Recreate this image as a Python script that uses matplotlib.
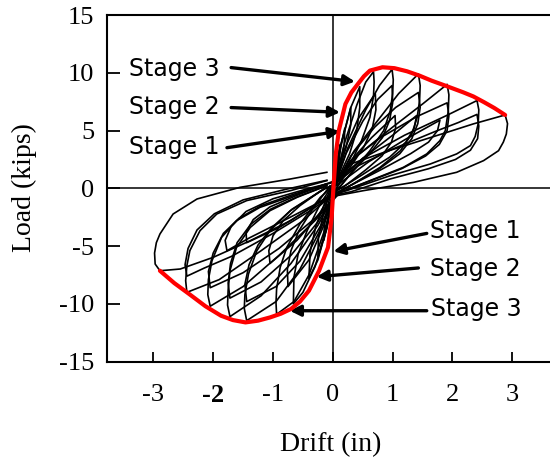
import numpy as np
import matplotlib.pyplot as plt

plt.rcParams['axes.unicode_minus'] = False

# envelope curve (red)
env_x = [-2.89, -2.65, -2.40, -2.13, -1.87, -1.67, -1.46, -1.25, -1.05, -0.87, -0.70, -0.55,
         -0.40, -0.23, -0.08, -0.02, 0.01, 0.05, 0.10, 0.21, 0.31, 0.42, 0.52, 0.62, 0.83,
         1.03, 1.24, 1.45, 1.65, 1.90, 2.18, 2.35, 2.53, 2.70, 2.88]
env_y = [-7.13, -8.2, -9.15, -10.2, -11.02, -11.4, -11.6, -11.45, -11.17, -10.85, -10.44, -9.8,
         -8.86, -7.13, -5.1, -2.5, 0.09, 2.98, 5.0, 7.3, 8.3, 9.04, 9.7, 10.19, 10.48,
         10.4, 10.13, 9.75, 9.32, 8.85, 8.31, 7.95, 7.45, 6.95, 6.35]

# hysteresis cycles (black)
loop_a_x = [0.05, 0.30, 0.90, 1.47, 2.00, 2.35, 2.88, 2.92, 2.90, 2.85, 2.77, 2.52, 2.07, 1.35, 0.51, 0.07,
            -0.10, -0.71, -1.38, -2.00, -2.55, -2.89, -2.97, -2.98, -2.95, -2.89, -2.67, -2.27, -1.55, -0.71, -0.10]
loop_a_y = [0.9, 2.11, 3.2, 4.13, 5.0, 5.58, 6.35, 5.6, 4.7, 4.0, 3.26, 2.4, 1.39, 0.52, -0.2, -0.63,
            -0.78, -2.8, -4.53, -5.97, -6.98, -7.13, -6.55, -5.6, -4.7, -3.95, -2.22, -0.92, 0.09, 0.81, 1.39]

loop_b_x = [0.05, 0.50, 1.20, 1.90, 2.41, 2.44, 2.43, 2.38, 2.30, 2.07, 1.63, 0.96, 0.23, 0.0,
            -0.50, -1.20, -1.90, -2.44, -2.46, -2.44, -2.39, -2.22, -1.94, -1.44, -0.71, -0.10]
loop_b_y = [0.6, 2.6, 4.6, 6.3, 7.6, 6.8, 5.6, 4.5, 3.7, 2.98, 2.11, 1.1, -0.2, -0.5,
            -2.8, -5.4, -7.9, -9.0, -8.0, -6.7, -5.39, -3.66, -2.22, -1.06, -0.2, 0.67]

loop_c_x = [0.05, 0.40, 1.00, 1.50, 1.91, 1.94, 1.93, 1.88, 1.79, 1.57, 1.18, 0.62, 0.12,
            -0.30, -0.90, -1.50, -2.05, -2.09, -2.08, -2.02, -1.86, -1.61, -1.22, -0.66, -0.10]
loop_c_y = [0.4, 2.8, 5.3, 7.3, 9.0, 8.1, 6.7, 5.0, 4.13, 2.98, 1.82, 0.67, -0.35,
            -2.8, -5.8, -8.5, -10.2, -9.2, -7.9, -6.26, -4.24, -2.8, -1.65, -0.63, 0.38]

loop_d_x = [0.05, 0.35, 0.80, 1.10, 1.43, 1.46, 1.45, 1.41, 1.32, 1.13, 0.79, 0.34, 0.04,
            -0.25, -0.70, -1.20, -1.72, -1.76, -1.75, -1.72, -1.61, -1.38, -1.05, -0.60, -0.10]
loop_d_y = [0.3, 3.2, 6.2, 8.2, 9.9, 8.9, 7.6, 6.15, 4.71, 3.26, 1.82, 0.38, -0.48,
            -3.2, -6.5, -9.3, -11.1, -10.1, -8.8, -7.13, -5.11, -3.38, -1.93, -0.78, 0.23]

loop_e_x = [0.05, 0.25, 0.55, 0.78, 0.99, 1.01, 1.00, 0.96, 0.85, 0.62, 0.34, 0.07,
            -0.20, -0.55, -0.95, -1.44, -1.48, -1.47, -1.41, -1.27, -1.05, -0.71, -0.10]
loop_e_y = [0.5, 3.5, 6.8, 8.9, 10.3, 9.4, 8.2, 6.73, 5.0, 3.26, 1.53, -0.2,
            -3.5, -7.0, -9.8, -11.45, -10.4, -9.2, -7.41, -5.39, -3.66, -1.93, 0.09]

loop_f_x = [0.05, 0.20, 0.40, 0.55, 0.68, 0.69, 0.68, 0.62, 0.48, 0.29, 0.07,
            -0.15, -0.40, -0.65, -0.94, -0.95, -0.94, -0.88, -0.77, -0.55, -0.21, 0.0]
loop_f_y = [0.6, 4.0, 7.2, 9.2, 10.1, 9.2, 8.0, 6.15, 4.13, 2.11, 0.09,
            -3.8, -7.5, -9.8, -10.9, -9.9, -8.7, -6.84, -5.11, -3.08, -0.78, 0.2]

loop_g_x = [0.03, 0.15, 0.30, 0.45, 0.45, 0.40, 0.28, 0.10, 0.0,
            -0.10, -0.30, -0.50, -0.66, -0.65, -0.58, -0.43, -0.21, 0.0]
loop_g_y = [0.5, 4.0, 7.0, 8.8, 7.0, 5.0, 3.0, 1.0, 0.0,
            -3.5, -6.8, -9.0, -10.0, -7.71, -5.68, -3.66, -1.35, 0.3]

loop_h_x = [0.02, 0.12, 0.30, 0.30, 0.22, 0.08, 0.0, -0.08, -0.25, -0.40, -0.38, -0.28, -0.10, 0.0]
loop_h_y = [0.4, 3.5, 7.0, 5.5, 3.5, 1.2, -0.2, -3.0, -6.2, -7.8, -5.5, -3.2, -0.8, 0.4]

loop_i_x = [0.02, 0.10, 0.20, 0.19, 0.10, 0.0, -0.10, -0.25, -0.24, -0.15, 0.0]
loop_i_y = [0.3, 3.0, 5.2, 3.8, 1.8, -0.3, -3.2, -6.0, -4.2, -2.0, 0.3]

loop_j_x = [0.01, 0.06, 0.12, 0.11, 0.05, 0.0, -0.06, -0.15, -0.14, -0.07, 0.0]
loop_j_y = [0.2, 2.0, 3.8, 2.6, 1.0, -0.2, -2.2, -4.5, -3.0, -1.2, 0.2]

loop_k_x = [0.05, 0.60, 1.20, 1.79, 1.75, 1.60, 1.30, 0.80, 0.20, -0.30, -0.90, -1.40, -1.77,
            -1.80, -1.70, -1.45, -1.00, -0.40, 0.0]
loop_k_y = [0.2, 2.3, 4.2, 5.9, 5.0, 4.0, 3.0, 1.6, 0.0, -1.4, -3.0, -4.3, -5.4,
            -4.5, -3.3, -2.0, -0.9, 0.0, 0.5]

loop_l_x = [0.05, 0.50, 1.00, 1.40, 1.36, 1.22, 0.95, 0.50, 0.10, -0.40, -0.90, -1.44,
            -1.45, -1.33, -1.05, -0.60, 0.0]
loop_l_y = [0.4, 2.6, 4.6, 6.3, 5.2, 4.0, 2.7, 1.2, -0.1, -1.8, -3.4, -4.7,
            -3.8, -2.7, -1.6, -0.6, 0.6]

# repeated cycles at the same drift, lower peaks
rep_1_x = [0.04, 0.30, 0.65, 1.04, 1.05, 0.98, 0.82, 0.55, 0.20, 0.0,
           -0.25, -0.60, -1.05, -1.07, -1.00, -0.83, -0.55, -0.20, 0.0]
rep_1_y = [0.3, 2.4, 4.4, 6.3, 5.2, 4.0, 2.8, 1.6, 0.2, -0.3,
           -2.4, -4.5, -6.5, -5.4, -4.1, -2.8, -1.5, -0.2, 0.3]

rep_2_x = [0.03, 0.18, 0.42, 0.71, 0.72, 0.66, 0.52, 0.30, 0.06,
           -0.15, -0.40, -0.75, -0.76, -0.70, -0.57, -0.35, -0.05]
rep_2_y = [0.4, 3.2, 6.0, 8.2, 6.8, 5.2, 3.6, 1.9, 0.0,
           -3.2, -6.2, -8.5, -7.0, -5.4, -3.7, -1.9, 0.2]

rep_3_x = [0.05, 0.40, 1.00, 1.70, 2.10, 2.41, 2.44, 2.42, 2.30, 2.05, 1.60, 0.95, 0.30, 0.0,
           -0.40, -1.00, -1.70, -2.15, -2.44, -2.47, -2.42, -2.27, -1.98, -1.50, -0.80, -0.10]
rep_3_y = [0.4, 1.9, 3.4, 4.9, 5.7, 6.4, 5.4, 4.3, 3.3, 2.5, 1.7, 0.8, -0.3, -0.6,
           -2.0, -3.9, -5.9, -6.9, -7.6, -6.6, -5.2, -3.6, -2.2, -1.0, -0.1, 0.7]

rep_4_x = [0.05, 0.30, 0.80, 1.40, 1.91, 1.94, 1.91, 1.78, 1.55, 1.15, 0.60, 0.10,
           -0.30, -0.90, -1.50, -2.05, -2.08, -2.00, -1.83, -1.57, -1.20, -0.65, -0.10]
rep_4_y = [0.3, 2.4, 4.4, 6.2, 7.4, 6.3, 5.0, 3.8, 2.8, 1.7, 0.6, -0.4,
           -2.6, -5.2, -7.3, -8.6, -7.2, -5.6, -3.9, -2.6, -1.5, -0.5, 0.4]

rep_5_x = [0.05, 0.30, 0.70, 1.05, 1.43, 1.46, 1.42, 1.32, 1.12, 0.78, 0.33, 0.04,
           -0.25, -0.70, -1.20, -1.72, -1.75, -1.71, -1.60, -1.37, -1.04, -0.58, -0.10]
rep_5_y = [0.3, 2.8, 5.3, 7.0, 8.3, 7.0, 5.6, 4.3, 3.0, 1.7, 0.35, -0.5,
           -2.9, -5.8, -8.1, -9.5, -8.2, -6.5, -4.7, -3.1, -1.8, -0.7, 0.25]

rep_6_x = [0.04, 0.22, 0.50, 0.75, 0.99, 1.00, 0.95, 0.83, 0.60, 0.32, 0.06,
           -0.20, -0.55, -0.95, -1.44, -1.47, -1.40, -1.25, -1.02, -0.68, -0.10]
rep_6_y = [0.4, 3.0, 5.8, 7.7, 8.9, 7.4, 5.9, 4.4, 2.9, 1.4, -0.2,
           -3.2, -6.3, -8.5, -9.8, -8.3, -6.6, -4.9, -3.4, -1.8, 0.1]

cycles = [(loop_a_x, loop_a_y), (loop_b_x, loop_b_y), (loop_c_x, loop_c_y),
          (loop_d_x, loop_d_y), (loop_e_x, loop_e_y), (loop_f_x, loop_f_y),
          (loop_g_x, loop_g_y), (loop_h_x, loop_h_y), (loop_i_x, loop_i_y),
          (loop_j_x, loop_j_y), (loop_k_x, loop_k_y), (loop_l_x, loop_l_y),
          (rep_1_x, rep_1_y), (rep_2_x, rep_2_y), (rep_3_x, rep_3_y),
          (rep_4_x, rep_4_y), (rep_5_x, rep_5_y), (rep_6_x, rep_6_y)]

# annotations: label, text position, arrow start, arrow tip
stage_labels = ['Stage 3', 'Stage 2', 'Stage 1', 'Stage 1', 'Stage 2', 'Stage 3']
text_pos = [(-3.41, 10.36), (-3.41, 7.01), (-3.41, 3.55), (1.63, -3.66), (1.63, -6.98), (1.64, -10.44)]
arrow_from = [(-1.70, 10.45), (-1.70, 6.99), (-1.77, 3.52), (1.57, -3.9), (1.43, -6.89), (1.57, -10.59)]
arrow_to = [(0.37, 9.24), (0.12, 6.58), (0.12, 4.94), (0.01, -5.45), (-0.27, -7.65), (-0.72, -10.59)]

xticks = [-3, -2, -1, 0, 1, 2, 3]
yticks = [-15, -10, -5, 0, 5, 10, 15]

fig = plt.figure(figsize=(5.5, 4.58), dpi=100)
ax = fig.add_axes([0.194, 0.2103, 0.806, 0.7569])

ax.axhline(0, color='k', lw=1.1)
ax.axvline(0, color='k', lw=1.1)

for cx, cy in cycles:
    ax.plot(cx, cy, color='k', lw=1.2, solid_joinstyle='round')

ax.plot(env_x, env_y, color='#ff0000', lw=3.0, solid_joinstyle='round', solid_capstyle='round', zorder=5)

for lab, tp, af, at in zip(stage_labels, text_pos, arrow_from, arrow_to):
    ax.text(tp[0], tp[1], lab, ha='left', va='center', fontsize=17, family='DejaVu Sans')
    ax.annotate('', xy=at, xytext=af,
                arrowprops=dict(arrowstyle='-|>', color='k', lw=2.4, mutation_scale=16,
                                shrinkA=0, shrinkB=0))

ax.set_xlim(-3.78, 3.63)
ax.set_ylim(-15, 15)
ax.set_xticks(xticks)
ax.set_yticks(yticks)
ax.set_xticklabels([str(t) for t in xticks], family='Liberation Serif', fontsize=19)
ax.set_yticklabels([str(t) for t in yticks], family='Liberation Serif', fontsize=19)
ax.get_xticklabels()[1].set_fontweight('bold')
ax.tick_params(axis='x', direction='in', length=7, width=1.3, pad=16)
ax.tick_params(axis='y', direction='in', length=9, width=1.3, pad=9)
ax.spines['right'].set_visible(False)
for s in ['left', 'bottom', 'top']:
    ax.spines[s].set_linewidth(1.5)

fig.text(331 / 550, 1 - 445 / 458, 'Drift (in)', ha='center', va='center',
         family='Liberation Serif', fontsize=20)
fig.text(24.5 / 550, 1 - 188 / 458, 'Load (kips)', ha='center', va='center', rotation=90,
         family='Liberation Serif', fontsize=20)

fig.savefig('out.png', dpi=100)
